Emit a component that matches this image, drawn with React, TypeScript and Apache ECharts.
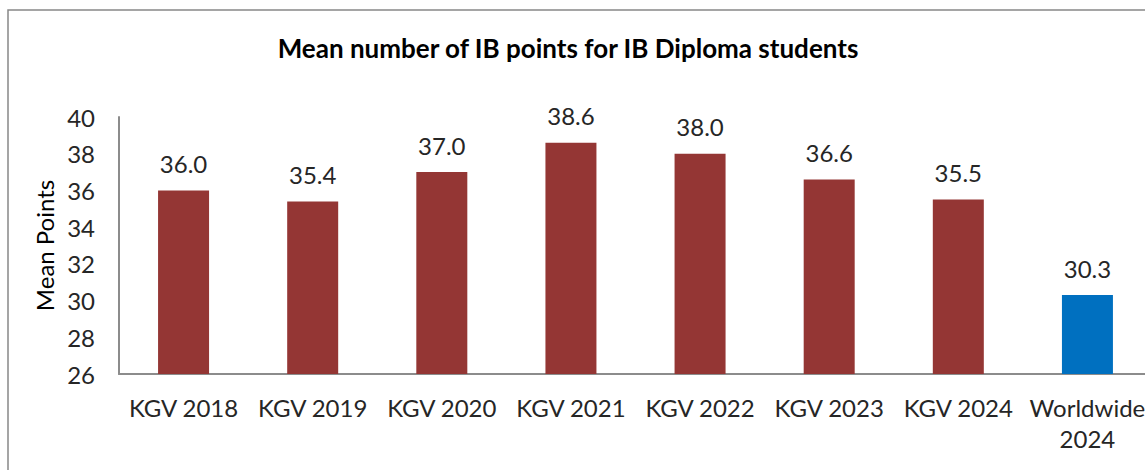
import React, { useEffect, useRef } from "react";
import * as echarts from "echarts";

const categories = ["KGV 2018", "KGV 2019", "KGV 2020", "KGV 2021", "KGV 2022", "KGV 2023", "KGV 2024", "Worldwide\n2024"];
const values = [36.0, 35.4, 37.0, 38.6, 38.0, 36.6, 35.5, 30.3];
const barColors = ["#943634", "#943634", "#943634", "#943634", "#943634", "#943634", "#943634", "#0070C0"];
const yMin = 26;
const yMax = 40;
const yInterval = 2;

const FONT = "Lato, 'Open Sans', sans-serif";
const CHART_W = 1160;

export default function App() {
  const ref = useRef<HTMLDivElement>(null);
  useEffect(() => {
    if (!ref.current) return;
    const chart = echarts.init(ref.current, undefined, { renderer: "svg" });
    chart.setOption({
      animation: false,
      backgroundColor: "#ffffff",
      title: {
        text: "Mean number of IB points for IB Diploma students",
        left: 563,
        textAlign: "center",
        top: 30,
        textStyle: { fontFamily: FONT, fontSize: 26, fontWeight: "bold", color: "#000000" },
      },
      graphic: [
        {
          type: "rect",
          shape: { x: 8, y: 10, width: 1160, height: 470 },
          style: { fill: "none", stroke: "#888888", lineWidth: 1.5 },
          silent: true,
        },
      ],
      grid: { left: 119, top: 117, bottom: 96, right: CHART_W - 119 - 1033, containLabel: false },
      xAxis: {
        type: "category",
        data: categories,
        axisLine: { show: true, lineStyle: { color: "#8c8c8c", width: 2 } },
        axisTick: { show: false },
        axisLabel: {
          interval: 0,
          margin: 18,
          fontFamily: FONT,
          fontSize: 24,
          color: "#262626",
          lineHeight: 31,
        },
      },
      yAxis: {
        type: "value",
        min: yMin,
        max: yMax,
        interval: yInterval,
        name: "Mean Points",
        nameLocation: "middle",
        nameGap: 62,
        nameTextStyle: { fontFamily: FONT, fontSize: 24, color: "#000000" },
        axisLine: { show: true, lineStyle: { color: "#8c8c8c", width: 2 } },
        axisTick: { show: false },
        splitLine: { show: false },
        axisLabel: { margin: 24, fontFamily: FONT, fontSize: 24, color: "#262626" },
      },
      series: [
        {
          type: "bar",
          data: values.map((v, i) => ({ value: v, itemStyle: { color: barColors[i] } })),
          barWidth: 51,
          label: {
            show: true,
            position: "top",
            distance: 15,
            formatter: (p: any) => Number(p.value).toFixed(1),
            fontFamily: FONT,
            fontSize: 24,
            color: "#262626",
          },
        },
      ],
    });
    return () => chart.dispose();
  }, []);
  return (
    <div style={{ position: "fixed", left: 0, top: 0, width: 1145, height: 470, overflow: "hidden" }}>
      <div ref={ref} style={{ width: CHART_W, height: 470 }} />
    </div>
  );
}
